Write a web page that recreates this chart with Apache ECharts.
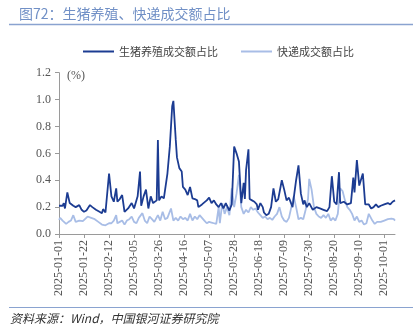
<!DOCTYPE html>
<html>
<head>
<meta charset="utf-8">
<script src="https://cdn.jsdelivr.net/npm/echarts@6/dist/echarts.min.js"></script>
<style>
html,body{margin:0;padding:0;background:#fff;}
#chart{width:420px;height:329px;}
</style>
</head>
<body>
<div id="chart"></div>
<script>
// ---- data ----
var startDate = '2025-01-01';
var dayCount = 283; // 2025-01-01 .. 2025-10-10
var seriesNames = ['生猪养殖成交额占比', '快递成交额占比'];
var yTicks = [0, 0.2, 0.4, 0.6, 0.8, 1.0, 1.2];

// day number since 2025-01-01, value (%)
var pigDays = [0,1,3,4,5,7,9,12,14,15,17,19,21,23,26,28,31,34,36,37,39,40,42,44,46,48,49,51,53,55,58,61,63,66,68,69,71,73,75,77,79,82,83,84,86,88,89,91,93,95,96,98,99,101,103,104,106,108,110,112,114,116,117,118,120,122,124,126,128,130,132,134,136,138,140,141,143,145,147,149,151,153,155,156,157,159,160,162,164,166,167,169,171,172,174,176,178,180,182,184,187,189,191,193,196,199,201,203,205,206,208,210,213,216,219,222,225,227,229,231,233,235,236,239,242,245,247,248,250,252,253,255,257,260,262,264,266,268,270,273,276,278,280,282];
var pigValues = [0.21,0.215,0.21,0.23,0.19,0.31,0.23,0.21,0.2,0.19,0.215,0.18,0.165,0.175,0.215,0.2,0.18,0.165,0.155,0.185,0.16,0.15,0.45,0.28,0.24,0.34,0.24,0.26,0.29,0.165,0.19,0.23,0.19,0.28,0.465,0.21,0.28,0.33,0.19,0.28,0.23,0.25,0.70,0.25,0.28,0.265,0.27,0.45,0.65,0.95,0.99,0.7,0.57,0.49,0.465,0.35,0.33,0.29,0.35,0.265,0.26,0.25,0.2,0.21,0.22,0.235,0.25,0.27,0.23,0.25,0.22,0.2,0.23,0.19,0.23,0.21,0.175,0.22,0.65,0.6,0.54,0.23,0.38,0.26,0.475,0.63,0.26,0.25,0.24,0.22,0.18,0.23,0.2,0.16,0.14,0.15,0.2,0.34,0.24,0.26,0.40,0.33,0.25,0.27,0.2,0.40,0.51,0.3,0.22,0.25,0.2,0.23,0.18,0.2,0.19,0.18,0.17,0.2,0.43,0.24,0.22,0.46,0.23,0.24,0.22,0.23,0.42,0.31,0.55,0.36,0.37,0.45,0.22,0.22,0.19,0.2,0.22,0.2,0.21,0.22,0.23,0.22,0.24,0.25];

var expressDays = [0,1,3,6,8,10,12,14,17,20,24,27,30,33,36,39,42,44,46,48,49,51,53,55,57,59,61,63,65,67,70,72,74,76,78,80,83,85,87,89,91,94,96,98,100,102,104,106,108,110,112,114,116,118,120,122,124,126,128,130,132,134,135,137,139,141,143,145,147,149,151,153,155,157,159,161,163,165,167,169,171,173,175,177,179,181,183,185,187,189,191,193,195,197,199,201,203,205,207,209,210,212,214,216,218,220,222,224,226,228,230,232,234,236,238,240,242,244,246,248,250,252,254,256,258,260,261,263,265,267,270,273,276,279,281,282];
var expressValues = [0.105,0.12,0.1,0.075,0.09,0.1,0.14,0.09,0.1,0.095,0.13,0.12,0.11,0.09,0.07,0.065,0.08,0.08,0.1,0.14,0.08,0.09,0.1,0.07,0.1,0.11,0.13,0.09,0.08,0.12,0.155,0.1,0.08,0.13,0.11,0.09,0.14,0.1,0.165,0.11,0.12,0.19,0.1,0.12,0.1,0.13,0.11,0.12,0.1,0.15,0.1,0.13,0.11,0.14,0.12,0.1,0.08,0.09,0.085,0.08,0.075,0.2,0.08,0.23,0.15,0.2,0.14,0.34,0.2,0.3,0.44,0.2,0.15,0.18,0.16,0.2,0.18,0.19,0.16,0.14,0.12,0.13,0.11,0.12,0.105,0.13,0.15,0.2,0.13,0.1,0.09,0.12,0.2,0.28,0.2,0.11,0.12,0.11,0.18,0.26,0.41,0.33,0.2,0.15,0.13,0.12,0.14,0.12,0.15,0.1,0.12,0.1,0.15,0.34,0.32,0.25,0.2,0.18,0.15,0.1,0.13,0.09,0.1,0.07,0.08,0.15,0.16,0.1,0.075,0.09,0.09,0.1,0.11,0.115,0.11,0.1];

// ---- categories ----
function pad(n){return n < 10 ? '0' + n : '' + n;}
var dates = [];
(function(){
  var d0 = new Date(startDate + 'T00:00:00Z');
  for (var i = 0; i < dayCount; i++) {
    var d = new Date(d0.getTime() + i * 86400000);
    dates.push(d.getUTCFullYear() + '-' + pad(d.getUTCMonth() + 1) + '-' + pad(d.getUTCDate()));
  }
})();
function pairs(days, vals){ return days.map(function(d, i){ return [dates[d], vals[i]]; }); }

var serifFont = 'Times New Roman, Liberation Serif, serif';
var cjkFont = 'Noto Sans CJK SC';

var chart = echarts.init(document.getElementById('chart'), null, {renderer: 'canvas'});
chart.setOption({
  animation: false,
  backgroundColor: '#ffffff',
  title: {
    text: '图72：生猪养殖、快递成交额占比',
    left: 19, top: 1, padding: 0,
    textStyle: {fontFamily: cjkFont, fontSize: 14, fontWeight: 'normal', color: '#7190c6', lineHeight: 26}
  },
  legend: {
    data: seriesNames.map(function(n){ return {name: n, icon: 'rect'}; }),
    left: 78, top: 41,
    itemWidth: 31, itemHeight: 2, itemGap: 23,
    textStyle: {fontFamily: cjkFont, fontSize: 11, color: '#444'}
  },
  grid: {left: 59, right: 25, top: 72.7, bottom: 95, containLabel: false, outerBoundsMode: 'none'},
  xAxis: {
    type: 'category',
    data: dates,
    boundaryGap: false,
    axisLine: {lineStyle: {color: '#9a9a9a', width: 1}},
    axisTick: {show: true, interval: 20, length: 4, lineStyle: {color: '#9a9a9a'}},
    axisLabel: {interval: 20, rotate: 90, fontFamily: serifFont, fontSize: 12, color: '#555', margin: 6},
    splitLine: {show: false}
  },
  yAxis: {
    type: 'value',
    min: yTicks[0], max: yTicks[yTicks.length - 1], interval: 0.2,
    name: '(%)',
    nameLocation: 'end',
    nameGap: -3,
    nameTextStyle: {fontFamily: serifFont, fontSize: 12, color: '#555', align: 'left', verticalAlign: 'middle', padding: [0, 0, 0, 8]},
    axisLine: {show: true, lineStyle: {color: '#9a9a9a', width: 1}},
    axisTick: {show: true, length: 4, lineStyle: {color: '#9a9a9a'}},
    axisLabel: {fontFamily: serifFont, fontSize: 12, color: '#555', margin: 8, formatter: function(v){ return v.toFixed(1); }},
    splitLine: {show: false}
  },
  series: [
    {
      name: seriesNames[0], type: 'line', data: pairs(pigDays, pigValues),
      showSymbol: false, symbol: 'none', z: 3,
      lineStyle: {color: '#1c3c92', width: 1.8}, itemStyle: {color: '#1c3c92'}
    },
    {
      name: seriesNames[1], type: 'line', data: pairs(expressDays, expressValues),
      showSymbol: false, symbol: 'none', z: 2,
      lineStyle: {color: '#a8bde6', width: 1.8}, itemStyle: {color: '#a8bde6'}
    }
  ],
  graphic: [
    {type: 'line', shape: {x1: 9, y1: 24.5, x2: 413, y2: 24.5}, style: {stroke: '#8aa3d0', lineWidth: 1.5}},
    {type: 'line', shape: {x1: 9, y1: 307.5, x2: 413, y2: 307.5}, style: {stroke: '#8aa3d0', lineWidth: 1.2}},
    {type: 'text', left: 10, top: 312, style: {text: '资料来源：Wind，中国银河证券研究院', font: 'italic 12px ' + cjkFont, fill: '#333'}}
  ]
});
</script>
</body>
</html>
